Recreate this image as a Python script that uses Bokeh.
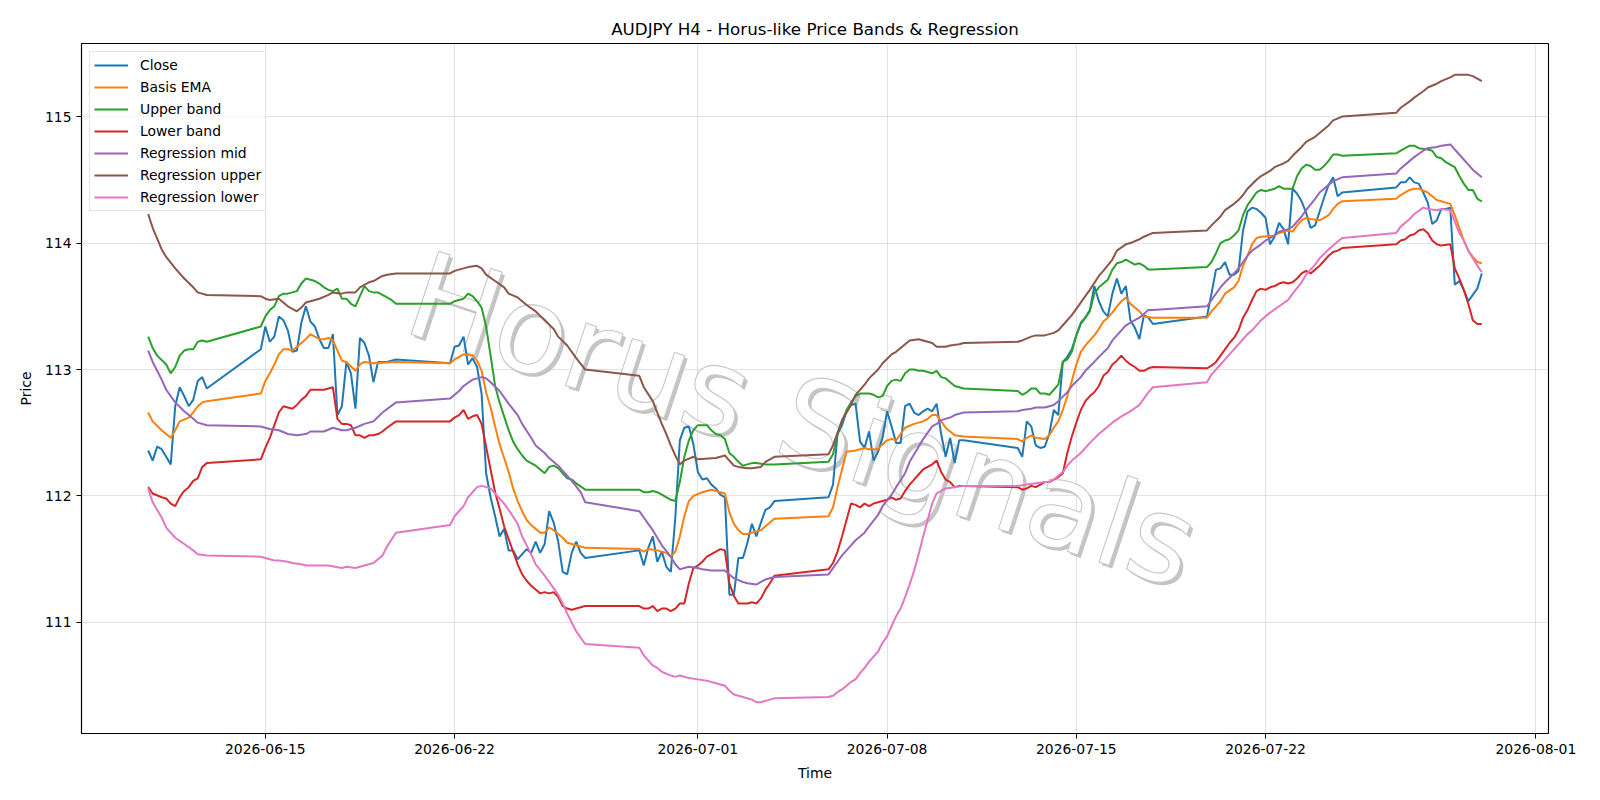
import pandas as pd
from bokeh.plotting import figure
from bokeh.models import (Range1d, FixedTicker, DatetimeTickFormatter, Legend,
                          LegendItem, ColumnDataSource)
from bokeh.embed import file_html
from bokeh.resources import INLINE
from bokeh.core.properties import value

# ---------------------------------------------------------------- data
# H4 bars, Wednesday 2026-06-10 16:00 to Thursday 2026-07-30 00:00.
# The market week runs from Sunday 20:00 to Friday 20:00.
def h4_calendar(start, end):
    out = []
    t = pd.Timestamp(start)
    stop = pd.Timestamp(end)
    while t <= stop:
        wd = t.weekday()
        if not (wd == 5 or (wd == 6 and t.hour < 20)):
            out.append(t)
        t += pd.Timedelta(hours=4)
    return out

bars = h4_calendar("2026-06-10 16:00", "2026-07-30 00:00")

close = [
    112.36, 112.28, 112.39, 112.37, 112.31, 112.25, 112.71, 112.86, 112.79, 112.71, 112.76, 112.91, 112.94, 112.85,
    113.16, 113.34, 113.22, 113.26, 113.42, 113.39, 113.31, 113.14, 113.15, 113.37, 113.50, 113.38, 113.34, 113.24,
    113.17, 113.17, 113.28, 112.64, 112.71, 113.06, 112.97, 112.69, 113.25, 113.21, 113.11, 112.90, 113.06, 113.06,
    113.06, 113.07, 113.08,
    113.05, 113.18, 113.19, 113.26, 113.04, 113.09, 113.02, 112.81, 112.18, 111.99, 111.84, 111.68, 111.74, 111.57,
    111.57, 111.50, 111.54, 111.58, 111.55, 111.64, 111.55, 111.62, 111.88, 111.79, 111.64, 111.40, 111.38, 111.55,
    111.64, 111.55, 111.51,
    111.57, 111.45, 111.59, 111.68, 111.48, 111.56, 111.44, 111.40, 111.83, 112.44, 112.54, 112.55, 112.41, 112.19,
    112.13, 112.14, 112.09, 112.06, 112.01, 111.99, 111.22, 111.22, 111.51, 111.51, 111.63, 111.78, 111.68, 111.79,
    111.89, 111.91, 111.96,
    111.99, 112.09, 112.49, 112.56, 112.67, 112.72, 112.73, 112.43, 112.38, 112.51, 112.28, 112.35, 112.46, 112.67,
    112.55, 112.42, 112.42, 112.71, 112.73, 112.66, 112.64, 112.67, 112.69, 112.67, 112.73, 112.49, 112.31, 112.46,
    112.26, 112.44, 112.44,
    112.38, 112.31, 112.59, 112.55, 112.40, 112.38, 112.39, 112.49, 112.68, 112.64, 113.06, 113.10, 113.16, 113.27,
    113.37, 113.41, 113.47, 113.66, 113.54, 113.46, 113.42, 113.60, 113.72, 113.60, 113.66, 113.39, 113.33, 113.24,
    113.43, 113.41, 113.36,
    113.42, 113.60, 113.79, 113.80, 113.85, 113.75, 113.75, 113.78, 114.10, 114.25, 114.28, 114.27, 114.24, 114.20,
    113.99, 114.05, 114.16, 114.11, 113.99, 114.43, 114.39, 114.33, 114.24, 114.12, 114.14, 114.25, 114.36, 114.46,
    114.52, 114.37, 114.40,
    114.44, 114.48, 114.48, 114.52, 114.48, 114.47, 114.40, 114.32, 114.15, 114.18, 114.27, 114.27, 114.28, 113.67,
    113.70, 113.63, 113.54, 113.59, 113.64, 113.76,
]

# (bar number, value) pairs for the derived lines
basis_ema = [
    (0, 112.66), (1, 112.59), (3, 112.52), (5, 112.46), (6, 112.52), (7, 112.59), (9, 112.62), (10, 112.66),
    (11, 112.71), (12, 112.74), (13, 112.75),
    (14, 112.81), (15, 112.91), (16, 112.97), (17, 113.04), (18, 113.12), (19, 113.16), (20, 113.16), (21, 113.15),
    (22, 113.18), (23, 113.21), (24, 113.24), (25, 113.28), (26, 113.26), (27, 113.24), (28, 113.24), (29, 113.25),
    (30, 113.23), (31, 113.15), (32, 113.07), (33, 113.06), (35, 112.99), (36, 113.04), (37, 113.06), (39, 113.05),
    (44, 113.06),
    (45, 113.05), (46, 113.08), (48, 113.12), (50, 113.11), (51, 113.07), (52, 112.99), (53, 112.82), (54, 112.70),
    (55, 112.55), (56, 112.41), (57, 112.30), (58, 112.19), (59, 112.06), (60, 111.96), (61, 111.88), (62, 111.81),
    (63, 111.77), (64, 111.74), (65, 111.71), (66, 111.71), (67, 111.75), (68, 111.73), (69, 111.70), (70, 111.67),
    (71, 111.63), (72, 111.62), (73, 111.61), (75, 111.59),
    (76, 111.58), (77, 111.56), (78, 111.58), (80, 111.57), (82, 111.55), (83, 111.52), (84, 111.56), (85, 111.68),
    (86, 111.84), (87, 111.96), (88, 112.00), (90, 112.03), (92, 112.05), (93, 112.04), (95, 112.02), (96, 111.87),
    (97, 111.78), (98, 111.73), (99, 111.70), (100, 111.70), (102, 111.72), (103, 111.73), (104, 111.76),
    (105, 111.79), (106, 111.82),
    (107, 111.84), (108, 111.91), (109, 112.07), (110, 112.21), (111, 112.35), (113, 112.36), (114, 112.37),
    (115, 112.38), (116, 112.37), (118, 112.37), (119, 112.41), (120, 112.44), (121, 112.45), (122, 112.44),
    (123, 112.49), (124, 112.54), (126, 112.57), (128, 112.59), (129, 112.61), (130, 112.64), (131, 112.64),
    (132, 112.59), (133, 112.54), (134, 112.51), (135, 112.48), (137, 112.47),
    (138, 112.45), (139, 112.43), (140, 112.46), (141, 112.48), (142, 112.46), (144, 112.45), (145, 112.48),
    (146, 112.54), (147, 112.59), (148, 112.68), (149, 112.79), (150, 112.91), (151, 113.04), (152, 113.14),
    (153, 113.19), (154, 113.23), (155, 113.27), (156, 113.32), (157, 113.38), (158, 113.41), (159, 113.45),
    (160, 113.50), (161, 113.54), (162, 113.57), (163, 113.52), (165, 113.46), (166, 113.42), (168, 113.41),
    (169, 113.41), (170, 113.46), (172, 113.54), (173, 113.60), (175, 113.65), (176, 113.70), (177, 113.82),
    (178, 113.90), (179, 113.99), (180, 114.04), (181, 114.05), (184, 114.06), (185, 114.08), (186, 114.09),
    (187, 114.10), (188, 114.09), (189, 114.14), (190, 114.18), (191, 114.20), (192, 114.19), (194, 114.18),
    (196, 114.22), (197, 114.27), (198, 114.31), (199, 114.33),
    (200, 114.35), (201, 114.38), (202, 114.40), (203, 114.42), (204, 114.43), (205, 114.43), (207, 114.40),
    (208, 114.37), (209, 114.34), (210, 114.33), (211, 114.32), (212, 114.31), (213, 114.22), (214, 114.12),
    (215, 114.02), (216, 113.94), (217, 113.89), (218, 113.85), (219, 113.84),
]

upper_band = [
    (0, 113.26), (1, 113.17), (2, 113.11), (4, 113.04), (5, 112.97), (6, 113.02), (7, 113.11), (8, 113.15),
    (9, 113.16), (10, 113.16), (11, 113.22), (12, 113.23), (13, 113.22),
    (14, 113.34), (15, 113.42), (16, 113.47), (17, 113.50), (18, 113.58), (19, 113.60), (20, 113.60), (22, 113.62),
    (23, 113.68), (24, 113.72), (25, 113.71), (26, 113.70), (27, 113.68), (28, 113.65), (29, 113.63), (30, 113.62),
    (31, 113.64), (32, 113.56), (33, 113.56), (34, 113.52), (35, 113.50), (36, 113.58), (37, 113.66), (38, 113.62),
    (39, 113.61), (40, 113.61), (41, 113.59), (43, 113.55), (44, 113.52),
    (45, 113.52), (46, 113.54), (47, 113.55), (48, 113.56), (49, 113.60), (50, 113.58), (51, 113.54), (52, 113.49),
    (53, 113.34), (54, 113.11), (55, 112.87), (56, 112.74), (57, 112.63), (58, 112.52), (59, 112.43), (60, 112.37),
    (61, 112.32), (62, 112.28), (63, 112.26), (64, 112.24), (65, 112.21), (66, 112.18), (67, 112.23), (68, 112.24),
    (69, 112.22), (70, 112.18), (71, 112.14), (72, 112.13), (73, 112.10), (75, 112.05),
    (76, 112.05), (77, 112.03), (78, 112.03), (79, 112.04), (80, 112.03), (81, 112.01), (83, 111.97), (84, 111.96),
    (85, 112.11), (86, 112.31), (87, 112.44), (88, 112.52), (89, 112.56), (91, 112.56), (92, 112.52), (93, 112.49),
    (94, 112.48), (95, 112.45), (96, 112.34), (97, 112.31), (98, 112.27), (99, 112.24), (100, 112.25),
    (101, 112.26), (102, 112.26), (104, 112.25), (106, 112.25),
    (107, 112.27), (108, 112.33), (109, 112.49), (110, 112.59), (111, 112.68), (112, 112.74), (113, 112.79),
    (114, 112.81), (116, 112.81), (117, 112.80), (118, 112.78), (119, 112.79), (120, 112.87), (121, 112.91),
    (122, 112.92), (123, 112.91), (124, 112.97), (125, 113.00), (126, 113.00), (127, 112.99), (128, 112.99),
    (129, 112.98), (130, 112.97), (131, 112.99), (132, 112.94), (133, 112.93), (134, 112.90), (135, 112.87),
    (137, 112.85),
    (138, 112.83), (139, 112.80), (140, 112.82), (141, 112.85), (142, 112.85), (143, 112.81), (144, 112.81),
    (145, 112.80), (146, 112.84), (147, 112.88), (148, 113.06), (149, 113.08), (150, 113.14), (151, 113.27),
    (152, 113.36), (153, 113.41), (154, 113.46), (155, 113.60), (156, 113.65), (157, 113.68), (158, 113.71),
    (159, 113.79), (160, 113.84), (161, 113.85), (162, 113.87), (163, 113.85), (164, 113.83), (165, 113.84),
    (166, 113.82), (167, 113.79), (168, 113.79),
    (169, 113.81), (170, 113.85), (171, 113.92), (172, 114.00), (173, 114.02), (174, 114.03), (175, 114.06),
    (176, 114.10), (177, 114.22), (178, 114.30), (179, 114.35), (180, 114.40), (181, 114.42), (182, 114.41),
    (183, 114.42), (184, 114.43), (185, 114.45), (186, 114.43), (187, 114.43), (188, 114.43), (189, 114.53),
    (190, 114.59), (191, 114.62), (192, 114.61), (193, 114.58), (194, 114.58), (195, 114.61), (196, 114.65),
    (197, 114.70), (198, 114.70), (199, 114.69),
    (200, 114.71), (201, 114.73), (202, 114.75), (203, 114.77), (204, 114.77), (205, 114.75), (207, 114.74),
    (208, 114.73), (209, 114.68), (210, 114.67), (211, 114.64), (212, 114.62), (213, 114.60), (214, 114.53),
    (215, 114.47), (216, 114.42), (217, 114.42), (218, 114.35), (219, 114.33),
]

lower_band = [
    (0, 112.07), (1, 112.02), (3, 111.99), (4, 111.98), (5, 111.94), (6, 111.92), (7, 111.99), (8, 112.04),
    (9, 112.07), (10, 112.12), (11, 112.14), (12, 112.23), (13, 112.26),
    (14, 112.29), (15, 112.38), (16, 112.46), (17, 112.56), (18, 112.66), (19, 112.71), (20, 112.70), (21, 112.69),
    (22, 112.72), (23, 112.76), (24, 112.79), (25, 112.84), (26, 112.84), (27, 112.84), (28, 112.84), (29, 112.85),
    (30, 112.86), (31, 112.61), (32, 112.57), (33, 112.57), (34, 112.56), (35, 112.48), (36, 112.48), (37, 112.46),
    (38, 112.48), (39, 112.48), (40, 112.49), (41, 112.51), (42, 112.54), (44, 112.59),
    (45, 112.59), (46, 112.62), (47, 112.64), (48, 112.68), (49, 112.61), (50, 112.63), (51, 112.64), (52, 112.57),
    (53, 112.39), (54, 112.21), (55, 112.03), (56, 111.90), (57, 111.76), (58, 111.66), (59, 111.56), (60, 111.46),
    (61, 111.38), (62, 111.33), (63, 111.29), (64, 111.26), (65, 111.23), (66, 111.24), (67, 111.23), (68, 111.24),
    (69, 111.20), (70, 111.13), (71, 111.11), (72, 111.10), (73, 111.11), (75, 111.13),
    (76, 111.13), (77, 111.11), (78, 111.11), (79, 111.13), (80, 111.09), (81, 111.11), (82, 111.11), (83, 111.09),
    (84, 111.11), (85, 111.15), (86, 111.15), (87, 111.31), (88, 111.43), (89, 111.45), (90, 111.48), (91, 111.52),
    (92, 111.54), (93, 111.56), (94, 111.58), (95, 111.57), (96, 111.31), (97, 111.21), (98, 111.15), (99, 111.15),
    (100, 111.15), (101, 111.16), (102, 111.15), (103, 111.19), (104, 111.26), (105, 111.31), (106, 111.37),
    (107, 111.42), (108, 111.47), (109, 111.56), (110, 111.68), (111, 111.81), (112, 111.94), (113, 111.93),
    (114, 111.91), (115, 111.94), (116, 111.92), (117, 111.94), (118, 111.95), (119, 111.96), (120, 111.97),
    (121, 111.99), (122, 111.97), (123, 111.98), (124, 112.04), (125, 112.09), (126, 112.13), (127, 112.17),
    (128, 112.21), (129, 112.23), (130, 112.25), (131, 112.28), (132, 112.19), (133, 112.13), (134, 112.11),
    (135, 112.07), (136, 112.08), (137, 112.08),
    (138, 112.07), (139, 112.05), (140, 112.06), (141, 112.08), (142, 112.07), (143, 112.09), (144, 112.11),
    (145, 112.11), (146, 112.13), (147, 112.15), (148, 112.18), (149, 112.34), (150, 112.47), (151, 112.58),
    (152, 112.68), (153, 112.75), (154, 112.79), (155, 112.82), (156, 112.87), (157, 112.95), (158, 112.98),
    (159, 113.04), (160, 113.07), (161, 113.11), (162, 113.07), (163, 113.04), (164, 113.02), (165, 112.99),
    (166, 112.99), (167, 113.01), (168, 113.02),
    (169, 113.01), (170, 113.03), (171, 113.06), (172, 113.11), (173, 113.16), (174, 113.21), (175, 113.25),
    (176, 113.31), (177, 113.41), (178, 113.47), (179, 113.55), (180, 113.62), (181, 113.64), (182, 113.63),
    (183, 113.65), (184, 113.66), (185, 113.68), (186, 113.69), (187, 113.68), (188, 113.69), (189, 113.72),
    (190, 113.76), (191, 113.78), (192, 113.76), (193, 113.79), (194, 113.82), (195, 113.86), (196, 113.90),
    (197, 113.93), (198, 113.94), (199, 113.96),
    (200, 113.99), (201, 114.02), (202, 114.03), (203, 114.06), (204, 114.07), (205, 114.10), (206, 114.11),
    (207, 114.08), (208, 114.02), (209, 113.99), (210, 113.98), (212, 113.99), (213, 113.80), (214, 113.72),
    (215, 113.63), (216, 113.52), (217, 113.39), (218, 113.36), (219, 113.36),
]

reg_mid = [
    (0, 113.15), (1, 113.06), (3, 112.92), (4, 112.84), (6, 112.74), (8, 112.67), (10, 112.61), (11, 112.58),
    (13, 112.56),
    (14, 112.55), (16, 112.53), (18, 112.52), (20, 112.49), (22, 112.48), (24, 112.49), (25, 112.51), (27, 112.51),
    (28, 112.51), (30, 112.54), (32, 112.52), (33, 112.52), (35, 112.54), (37, 112.57), (39, 112.59), (41, 112.66),
    (44, 112.74),
    (45, 112.77), (47, 112.83), (48, 112.87), (50, 112.92), (52, 112.94), (53, 112.93), (54, 112.90), (56, 112.83),
    (57, 112.78), (58, 112.73), (60, 112.64), (61, 112.57), (63, 112.46), (64, 112.40), (66, 112.34), (67, 112.30),
    (69, 112.24), (70, 112.20), (71, 112.16), (72, 112.12), (74, 112.03), (75, 111.95),
    (76, 111.88), (77, 111.83), (78, 111.78), (79, 111.73), (80, 111.67), (81, 111.61), (83, 111.52), (84, 111.46),
    (85, 111.42), (86, 111.43), (87, 111.44), (89, 111.43), (90, 111.42), (92, 111.41), (95, 111.41), (96, 111.38),
    (97, 111.35), (99, 111.32), (100, 111.31), (102, 111.30), (103, 111.32), (104, 111.34), (106, 111.36),
    (107, 111.38), (108, 111.43), (109, 111.48), (110, 111.53), (112, 111.61), (113, 111.65), (115, 111.71),
    (116, 111.76), (118, 111.85), (119, 111.92), (121, 112.01), (122, 112.07), (124, 112.18), (125, 112.27),
    (127, 112.39), (128, 112.45), (130, 112.55), (131, 112.57), (132, 112.60), (134, 112.62), (135, 112.64),
    (137, 112.66),
    (138, 112.67), (139, 112.68), (141, 112.69), (142, 112.70), (144, 112.70), (146, 112.72), (147, 112.75),
    (149, 112.82), (150, 112.87), (152, 112.94), (153, 112.99), (155, 113.06), (156, 113.10), (158, 113.17),
    (159, 113.23), (161, 113.31), (162, 113.35), (164, 113.39), (165, 113.41), (167, 113.47), (168, 113.47),
    (169, 113.50), (170, 113.55), (172, 113.65), (173, 113.69), (175, 113.76), (176, 113.80), (178, 113.90),
    (179, 113.94), (181, 113.99), (182, 114.02), (184, 114.06), (185, 114.09), (187, 114.11), (188, 114.13),
    (190, 114.21), (191, 114.26), (193, 114.35), (194, 114.40), (196, 114.46), (197, 114.49), (199, 114.52),
    (200, 114.55), (201, 114.59), (203, 114.65), (204, 114.68), (206, 114.73), (207, 114.75), (209, 114.76),
    (210, 114.77), (212, 114.78), (213, 114.74), (214, 114.70), (216, 114.62), (217, 114.58), (219, 114.52),
]

reg_upper = [
    (0, 114.23), (1, 114.12), (3, 113.95), (4, 113.89), (6, 113.80), (8, 113.72), (10, 113.65), (11, 113.61),
    (13, 113.59),
    (14, 113.58), (15, 113.56), (16, 113.55), (18, 113.56), (20, 113.50), (22, 113.46), (23, 113.49), (24, 113.53),
    (26, 113.55), (27, 113.56), (29, 113.59), (30, 113.61), (32, 113.60), (33, 113.61), (35, 113.61), (36, 113.65),
    (38, 113.69), (39, 113.70), (41, 113.74), (42, 113.75), (44, 113.76),
    (45, 113.76), (46, 113.78), (48, 113.80), (49, 113.81), (51, 113.82), (52, 113.80), (53, 113.75), (55, 113.70),
    (57, 113.65), (58, 113.60), (60, 113.57), (62, 113.51), (64, 113.46), (66, 113.39), (68, 113.32), (69, 113.26),
    (71, 113.19), (73, 113.09), (75, 113.00),
    (76, 112.95), (77, 112.86), (79, 112.75), (80, 112.66), (81, 112.57), (82, 112.49), (83, 112.40), (84, 112.32),
    (85, 112.25), (86, 112.28), (88, 112.31), (89, 112.29), (93, 112.30), (95, 112.32), (96, 112.28), (97, 112.24),
    (98, 112.23), (100, 112.22), (101, 112.22), (103, 112.23), (104, 112.27), (106, 112.31),
    (107, 112.33), (108, 112.40), (109, 112.50), (110, 112.60), (112, 112.72), (113, 112.80), (115, 112.88),
    (116, 112.93), (118, 113.00), (119, 113.05), (121, 113.12), (122, 113.14), (124, 113.20), (125, 113.23),
    (127, 113.24), (128, 113.23), (130, 113.21), (131, 113.18), (133, 113.18), (134, 113.19), (136, 113.20),
    (137, 113.21),
    (138, 113.22), (139, 113.23), (141, 113.26), (142, 113.27), (144, 113.27), (146, 113.29), (147, 113.31),
    (148, 113.35), (150, 113.43), (151, 113.48), (153, 113.58), (154, 113.63), (156, 113.74), (157, 113.78),
    (159, 113.87), (160, 113.94), (162, 113.99), (163, 114.00), (165, 114.03), (166, 114.05), (168, 114.08),
    (169, 114.10), (170, 114.14), (172, 114.21), (173, 114.26), (175, 114.31), (176, 114.34), (177, 114.38),
    (178, 114.43), (180, 114.50), (181, 114.53), (183, 114.57), (184, 114.60), (186, 114.63), (187, 114.65),
    (188, 114.69), (190, 114.76), (191, 114.80), (193, 114.84), (194, 114.87), (196, 114.93), (197, 114.97),
    (199, 115.00),
    (200, 115.03), (201, 115.07), (203, 115.12), (204, 115.15), (206, 115.20), (207, 115.23), (209, 115.26),
    (210, 115.28), (212, 115.31), (213, 115.33), (214, 115.33), (216, 115.33), (217, 115.32), (218, 115.30),
    (219, 115.28),
]

reg_lower = [
    (0, 112.06), (1, 111.95), (3, 111.83), (4, 111.75), (6, 111.67), (8, 111.62), (10, 111.57), (11, 111.54),
    (13, 111.53),
    (14, 111.52), (16, 111.50), (17, 111.49), (18, 111.49), (20, 111.48), (21, 111.47), (23, 111.46), (24, 111.45),
    (26, 111.45), (27, 111.45), (29, 111.45), (32, 111.43), (33, 111.44), (35, 111.43), (37, 111.45), (39, 111.47),
    (41, 111.53), (42, 111.60), (44, 111.71),
    (45, 111.77), (46, 111.84), (48, 111.92), (49, 111.99), (51, 112.07), (52, 112.08), (54, 112.06), (55, 112.02),
    (57, 111.94), (58, 111.89), (60, 111.78), (61, 111.68), (63, 111.54), (64, 111.46), (66, 111.37), (67, 111.32),
    (69, 111.22), (70, 111.15), (71, 111.07), (72, 111.00), (73, 110.93), (75, 110.83),
    (76, 110.80), (77, 110.74), (79, 110.66), (80, 110.64), (81, 110.61), (83, 110.58), (84, 110.57), (85, 110.58),
    (87, 110.56), (89, 110.55), (91, 110.54), (93, 110.52), (95, 110.50), (96, 110.46), (97, 110.43), (98, 110.42),
    (99, 110.41), (101, 110.39), (102, 110.37), (103, 110.37), (104, 110.38), (106, 110.40),
    (107, 110.41), (108, 110.42), (109, 110.45), (110, 110.47), (111, 110.50), (112, 110.53), (113, 110.55),
    (114, 110.60), (115, 110.64), (116, 110.69), (117, 110.73), (118, 110.77), (119, 110.84), (120, 110.89),
    (121, 110.97), (122, 111.05), (123, 111.11), (124, 111.20), (125, 111.30), (126, 111.41), (127, 111.54),
    (128, 111.68), (129, 111.81), (130, 111.94), (131, 112.02), (132, 112.04), (133, 112.06), (135, 112.07),
    (137, 112.08),
    (138, 112.08), (140, 112.09), (142, 112.10), (144, 112.11), (145, 112.11), (146, 112.13), (147, 112.16),
    (148, 112.19), (149, 112.24), (150, 112.28), (151, 112.31), (152, 112.34), (154, 112.42), (156, 112.49),
    (158, 112.55), (159, 112.58), (161, 112.63), (163, 112.67), (165, 112.72), (167, 112.82), (168, 112.86),
    (169, 112.90), (170, 112.96), (172, 113.04), (174, 113.12), (176, 113.20), (178, 113.28), (179, 113.31),
    (181, 113.39), (183, 113.45), (185, 113.50), (187, 113.55), (188, 113.60), (190, 113.69), (191, 113.75),
    (193, 113.83), (194, 113.88), (196, 113.95), (197, 113.98), (199, 114.04),
    (200, 114.08), (201, 114.13), (203, 114.19), (204, 114.23), (206, 114.28), (207, 114.27), (209, 114.26),
    (210, 114.27), (212, 114.26), (213, 114.17), (214, 114.08), (215, 114.02), (216, 113.94), (217, 113.88),
    (218, 113.82), (219, 113.77),
]

series = [
    ("Close", list(enumerate(close)), "#1f77b4"),
    ("Basis EMA", basis_ema, "#ff7f0e"),
    ("Upper band", upper_band, "#2ca02c"),
    ("Lower band", lower_band, "#d62728"),
    ("Regression mid", reg_mid, "#9467bd"),
    ("Regression upper", reg_upper, "#8c564b"),
    ("Regression lower", reg_lower, "#e377c2"),
]

x_ticks = ["2026-06-15", "2026-06-22", "2026-07-01", "2026-07-08", "2026-07-15", "2026-07-22", "2026-08-01"]
y_ticks = [111, 112, 113, 114, 115]

# ---------------------------------------------------------------- ranges (5 % padding)
t0, t1 = bars[0], bars[-1]
pad_t = (t1 - t0) * 0.05
all_vals = [v for _, pts, _ in series for _, v in pts]
lo, hi = min(all_vals), max(all_vals)
pad_v = (hi - lo) * 0.05

FONT = "DejaVu Sans"

p = figure(
    width=1600, height=800, x_axis_type="datetime",
    x_range=Range1d((t0 - pad_t).to_pydatetime(), (t1 + pad_t).to_pydatetime()),
    y_range=Range1d(lo - pad_v, hi + pad_v),
    output_backend="svg", toolbar_location=None,
    min_border_left=81, min_border_right=52, min_border_top=43, min_border_bottom=67,
    title="AUDJPY H4 - Horus-like Price Bands & Regression",
)
p.background_fill_color = "white"
p.border_fill_color = "white"
p.outline_line_color = "black"
p.outline_line_width = 1.1

p.title.align = "center"
p.title.text_font = FONT
p.title.text_font_size = "16.7px"
p.title.text_font_style = "normal"
p.title.text_color = "black"

p.xaxis.ticker = FixedTicker(ticks=[pd.Timestamp(d).value // 10**6 for d in x_ticks])
fmt = "%Y-%m-%d"
p.xaxis.formatter = DatetimeTickFormatter(days=fmt, months=fmt, hours=fmt, years=fmt)
p.yaxis.ticker = FixedTicker(ticks=y_ticks)
p.xaxis.axis_label = "Time"
p.yaxis.axis_label = "Price"

for ax in (p.xaxis[0], p.yaxis[0]):
    ax.axis_label_text_font = FONT
    ax.axis_label_text_font_size = "13.9px"
    ax.axis_label_text_font_style = "normal"
    ax.axis_label_text_color = "black"
    ax.axis_label_standoff = 8
    ax.major_label_text_font = FONT
    ax.major_label_text_font_size = "13.9px"
    ax.major_label_text_color = "black"
    ax.major_label_standoff = 5
    ax.axis_line_color = "black"
    ax.axis_line_width = 1.1
    ax.major_tick_line_color = "black"
    ax.major_tick_in = 0
    ax.major_tick_out = 5
    ax.minor_tick_line_color = None

p.grid.grid_line_color = "#b0b0b0"
p.grid.grid_line_alpha = 0.35
p.grid.grid_line_width = 1

# watermark, drawn first so that the price lines sit on top
wm_text = ["Horus Signals"]
wm_x = [pd.Timestamp("2026-07-04 21:00")]
wm_y = [112.60]
wm_angle = -0.32
p.text(x=wm_x, y=wm_y, text=wm_text, angle=wm_angle, text_align="center",
       text_baseline="middle", text_font=value(FONT), text_font_size="120px",
       text_color="#c4c4c4", x_offset=3, y_offset=3)
p.text(x=wm_x, y=wm_y, text=wm_text, angle=wm_angle, text_align="center",
       text_baseline="middle", text_font=value(FONT), text_font_size="120px",
       text_color="white", text_outline_color="#c8c8c8")

items = []
for name, pts, color in series:
    src = ColumnDataSource(dict(t=[bars[i] for i, _ in pts], v=[v for _, v in pts]))
    r = p.line("t", "v", source=src, line_color=color, line_width=2)
    items.append(LegendItem(label=name, renderers=[r]))

legend = Legend(
    items=items, location="top_left", margin=8, padding=4, spacing=4,
    glyph_width=34, glyph_height=18, label_height=18, label_standoff=12,
    label_text_font=FONT, label_text_font_size="13.9px", label_text_color="black",
    border_line_color="#cccccc", border_line_width=1,
    background_fill_color="white", background_fill_alpha=0.8,
)
p.add_layout(legend)

open("out.html", "w").write(file_html(p, INLINE))
